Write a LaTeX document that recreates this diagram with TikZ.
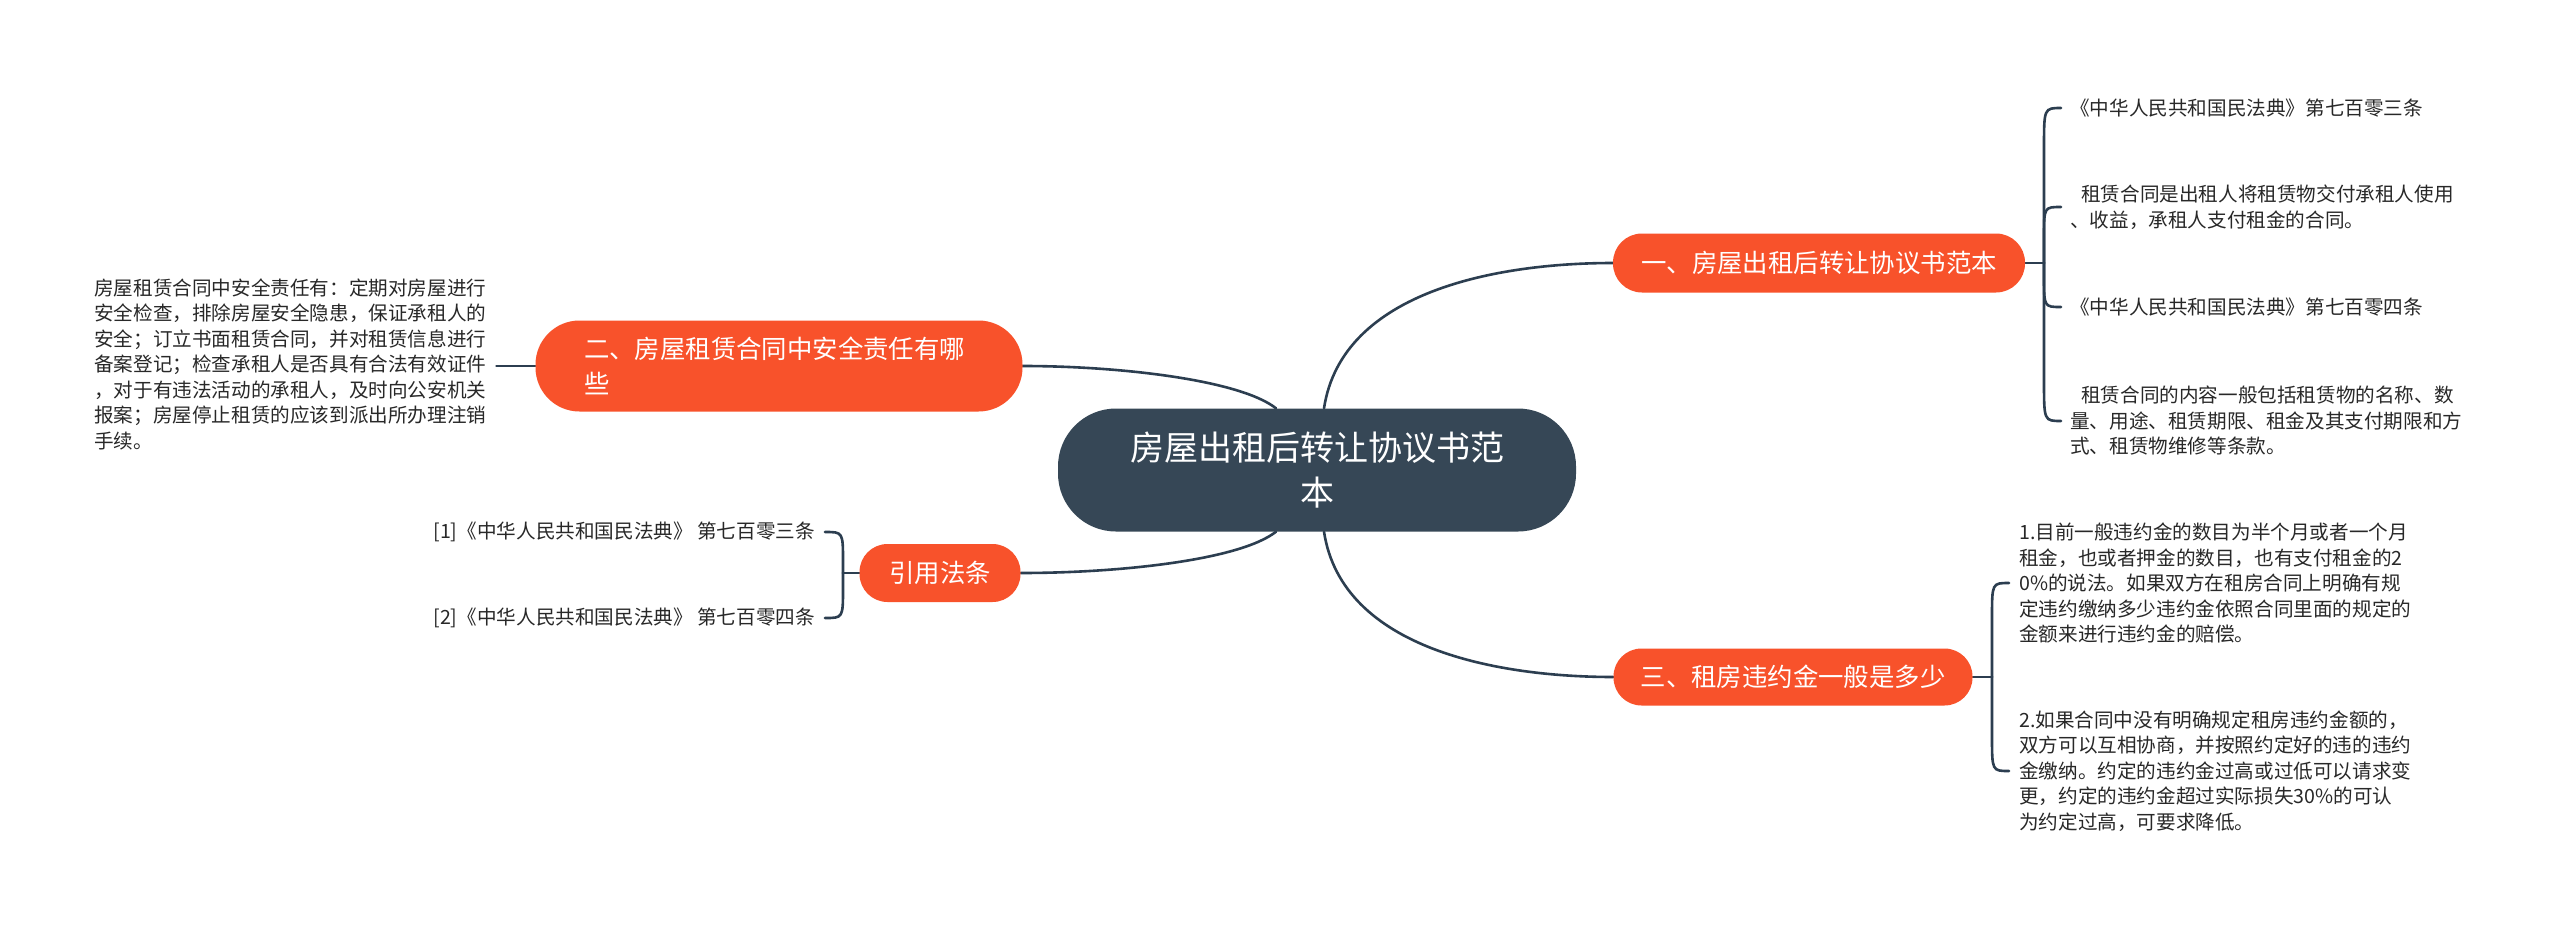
\documentclass[tikz,border=0pt]{standalone}
\usepackage{fontspec}
\newfontfamily\cjk{Noto Sans CJK SC}
\usetikzlibrary{calc,backgrounds}
\definecolor{orangeN}{RGB}{248,82,43}
\definecolor{darkN}{RGB}{54,71,86}
\definecolor{lineC}{RGB}{44,62,80}
\definecolor{txt}{RGB}{40,40,40}
\begin{document}
\begin{tikzpicture}[x=1pt,y=-1pt,
  conn/.style={draw=lineC,line width=2.6pt,line cap=round},
  mainbox/.style={fill=darkN,text=white,rounded corners=58pt,minimum width=518pt,minimum height=123pt,inner sep=0pt,font=\cjk\fontsize{34}{45}\selectfont,align=center},
  topicbox/.style={fill=orangeN,text=white,inner sep=0pt,font=\cjk\fontsize{25.4}{35}\selectfont},
  leaf/.style={inner sep=0pt,text=txt,font=\cjk\fontsize{19.6}{25.5}\selectfont,align=left}]
\useasboundingbox (0,0) rectangle (2560,929);
% main and topic nodes
\node[mainbox] (c) at (1317,470) {房屋出租后转让协议书范\\本};
\node[topicbox,minimum width=412pt,minimum height=59pt,rounded corners=29pt] (t1) at (1819,263) {一、房屋出租后转让协议书范本};
\node[topicbox,minimum width=487pt,minimum height=91pt,rounded corners=44pt,text width=390pt,align=left] (t2) at (779,366) {二、房屋租赁合同中安全责任有哪\\些};
\node[topicbox,minimum width=161pt,minimum height=58pt,rounded corners=28pt] (t3) at (940,573) {引用法条};
\node[topicbox,minimum width=359pt,minimum height=57pt,rounded corners=28pt] (t4) at (1793,677) {三、租房违约金一般是多少};
% leaves
\node[leaf,anchor=west] (l11) at (2070,108) {《中华人民共和国民法典》第七百零三条};
\node[leaf,anchor=west] (l12) at (2070,207) {\hspace*{11pt}租赁合同是出租人将租赁物交付承租人使用\\、收益，承租人支付租金的合同。};
\node[leaf,anchor=west] (l13) at (2070,307) {《中华人民共和国民法典》第七百零四条};
\node[leaf,anchor=west] (l14) at (2070,421) {\hspace*{11pt}租赁合同的内容一般包括租赁物的名称、数\\量、用途、租赁期限、租金及其支付期限和方\\式、租赁物维修等条款。};
\node[leaf,anchor=west] (d1) at (2019,583) {1.目前一般违约金的数目为半个月或者一个月\\租金，也或者押金的数目，也有支付租金的2\\0\%的说法。如果双方在租房合同上明确有规\\定违约缴纳多少违约金依照合同里面的规定的\\金额来进行违约金的赔偿。};
\node[leaf,anchor=west] (d2) at (2019,771) {2.如果合同中没有明确规定租房违约金额的，\\双方可以互相协商，并按照约定好的违的违约\\金缴纳。约定的违约金过高或过低可以请求变\\更，约定的违约金超过实际损失30\%的可认\\为约定过高，可要求降低。};
\node[leaf,anchor=west] (l2) at (94,364) {房屋租赁合同中安全责任有：定期对房屋进行\\安全检查，排除房屋安全隐患，保证承租人的\\安全；订立书面租赁合同，并对租赁信息进行\\备案登记；检查承租人是否具有合法有效证件\\，对于有违法活动的承租人，及时向公安机关\\报案；房屋停止租赁的应该到派出所办理注销\\手续。};
\node[leaf,anchor=east] (r1) at (815,532) {[1]《中华人民共和国民法典》 第七百零三条};
\node[leaf,anchor=east] (r2) at (815,618) {[2]《中华人民共和国民法典》 第七百零四条};
% junctions
\coordinate (j1) at (2044,263);
\coordinate (j4) at (1992,677);
\coordinate (j3) at (843,573);
\begin{scope}[on background layer]
\fill[white] (0,0) rectangle (2560,929);
\draw[conn] ($(c.north)+(7,0)$) .. controls (1342,290) and (1500,263) .. (t1.west);
\draw[conn] ($(c.south)+(7,0)$) .. controls (1342,650) and (1500,677) .. (t4.west);
\draw[conn] ($(c.north)+(-41,0)$) .. controls (1240,380) and (1120,366) .. (t2.east);
\draw[conn] ($(c.south)+(-41,0)$) .. controls (1240,560) and (1120,573) .. (t3.east);
% topic 1 brace
\draw[conn] (t1.east) -- (j1);
\draw[conn] (j1) -- ($(j1|-l11.west)+(0,40)$) .. controls (j1|-l11.west) .. ($(l11.west)+(-9,0)$);
\draw[conn] (j1) -- ($(j1|-l12.west)+(0,30)$) .. controls (j1|-l12.west) .. ($(l12.west)+(-9,0)$);
\draw[conn] (j1) -- ($(j1|-l13.west)+(0,-30)$) .. controls (j1|-l13.west) .. ($(l13.west)+(-9,0)$);
\draw[conn] (j1) -- ($(j1|-l14.west)+(0,-40)$) .. controls (j1|-l14.west) .. ($(l14.west)+(-9,0)$);
% topic 4 brace
\draw[conn] (t4.east) -- (j4);
\draw[conn] (j4) -- ($(j4|-d1.west)+(0,35)$) .. controls (j4|-d1.west) .. ($(d1.west)+(-10,0)$);
\draw[conn] (j4) -- ($(j4|-d2.west)+(0,-35)$) .. controls (j4|-d2.west) .. ($(d2.west)+(-10,0)$);
% topic 3 brace
\draw[conn] (t3.west) -- (j3);
\draw[conn] (j3) -- ($(j3|-r1.east)+(0,30)$) .. controls (j3|-r1.east) .. ($(r1.east)+(10,0)$);
\draw[conn] (j3) -- ($(j3|-r2.east)+(0,-30)$) .. controls (j3|-r2.east) .. ($(r2.east)+(10,0)$);
% topic 2 single child
\draw[conn,shorten >=10pt] (t2.west) -- (t2.west-|l2.east);
\end{scope}
\end{tikzpicture}
\end{document}
